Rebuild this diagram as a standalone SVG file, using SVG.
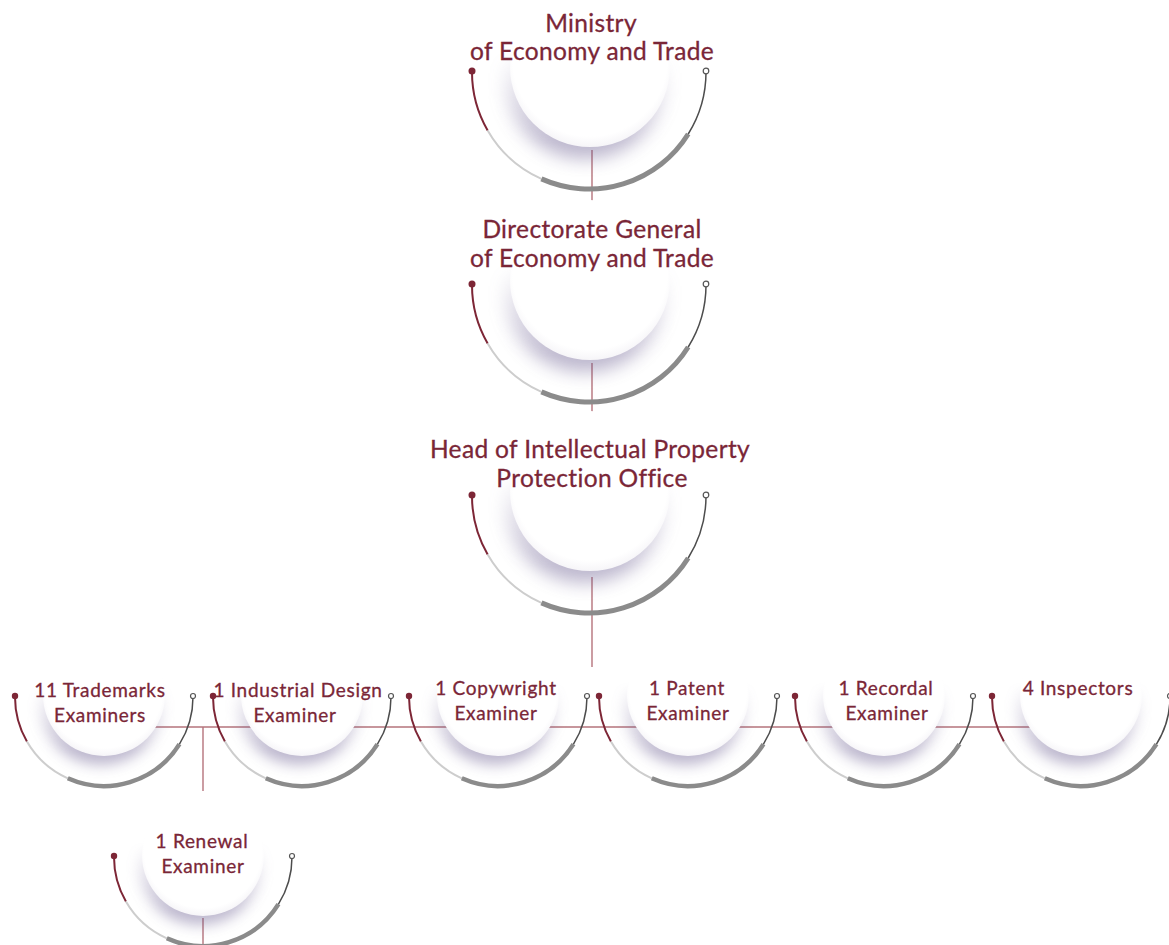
<svg xmlns="http://www.w3.org/2000/svg" width="1169" height="945" viewBox="0 0 1169 945">
<style>
.t{font-family:Lato,"Liberation Sans",sans-serif;fill:#7a2637;stroke:#7a2637;stroke-width:0.3;text-anchor:middle}
.tl{font-size:24.5px;letter-spacing:0.35px}
.ts{font-size:19px;letter-spacing:0.7px}
.conn{stroke:#b5737b;stroke-width:1.4;fill:none}
.red{stroke:#7d2636;stroke-width:2;fill:none}
.lgt{stroke:#cdcdcd;stroke-width:2;fill:none}
.thk{stroke:#8b8b8b;stroke-width:5;fill:none}
.thn{stroke:#4d4d4d;stroke-width:1.5;fill:none}
.dotR{fill:#7d2636}
.dotO{fill:#ffffff;stroke:#555555;stroke-width:1.2}
.sh{fill:#62548a}
</style>
<defs>
<radialGradient id="disc" cx="50%" cy="45%" r="55%">
<stop offset="0" stop-color="#ffffff"/>
<stop offset="0.88" stop-color="#ffffff"/>
<stop offset="1" stop-color="#f6f5f8"/>
</radialGradient>
<linearGradient id="fade" x1="0" y1="0" x2="0" y2="1">
<stop offset="0" stop-color="#fff" stop-opacity="0"/>
<stop offset="0.4" stop-color="#fff" stop-opacity="0"/>
<stop offset="0.72" stop-color="#fff" stop-opacity="1"/>
<stop offset="1" stop-color="#fff" stop-opacity="1"/>
</linearGradient>
<mask id="shMask" maskContentUnits="objectBoundingBox" x="-0.4" y="-0.4" width="1.8" height="1.8">
<rect x="-0.4" y="-0.4" width="1.8" height="1.8" fill="url(#fade)"/>
</mask>
<filter id="blurL" x="-40%" y="-40%" width="180%" height="180%">
<feGaussianBlur stdDeviation="9"/>
</filter>
<filter id="blurS" x="-40%" y="-40%" width="180%" height="180%">
<feGaussianBlur stdDeviation="7"/>
</filter>
<g id="ringL">
<g mask="url(#shMask)"><circle class="sh" cx="-4" cy="7" r="80" opacity="0.42" filter="url(#blurL)"/></g>
<circle cx="1" cy="-5" r="80" fill="url(#disc)"/>
<path class="red" d="M-117 0A117 117 0 0 0 -101.33 58.5"/>
<path class="lgt" d="M-101.33 58.5A117 117 0 0 0 -47.58 106.88"/>
<path class="thk" d="M-47.58 106.88A117 117 0 0 0 99.22 62"/>
<path class="thn" d="M99.22 62A117 117 0 0 0 117 0"/>
<circle class="dotR" cx="-117" cy="-1" r="3.5"/>
<circle class="dotO" cx="117" cy="-1" r="2.8"/>
</g>
<g id="ringS">
<g mask="url(#shMask)"><circle class="sh" cx="-3" cy="7" r="61" opacity="0.42" filter="url(#blurS)"/></g>
<circle cx="0" cy="-2" r="61" fill="url(#disc)"/>
<path class="red" d="M-89 0A89 89 0 0 0 -77.08 44.5"/>
<path class="lgt" d="M-77.08 44.5A89 89 0 0 0 -36.2 81.3"/>
<path class="thk" d="M-36.2 81.3A89 89 0 0 0 75.47 47.16" style="stroke-width:4.5"/>
<path class="thn" d="M75.47 47.16A89 89 0 0 0 89 0"/>
<circle class="dotR" cx="-89" cy="-1" r="3.2"/>
<circle class="dotO" cx="89" cy="-1" r="2.5"/>
</g>
</defs>
<rect width="1169" height="945" fill="#ffffff"/>
<g id="connectors">
<path class="conn" d="M592 150V201"/>
<path class="conn" d="M592 363V412"/>
<path class="conn" d="M592 577V667"/>
<path class="conn" d="M104 727H1081"/>
<path class="conn" d="M203 727V791"/>
<path class="conn" d="M203 918V945"/>
</g>
<g id="node-ministry">
<use href="#ringL" x="589" y="72"/>
<text class="t tl" x="591" y="32">Ministry</text>
<text class="t tl" x="592" y="60">of Economy and Trade</text>
</g>
<g id="node-directorate">
<use href="#ringL" x="589" y="285"/>
<text class="t tl" x="592" y="238">Directorate General</text>
<text class="t tl" x="592" y="267">of Economy and Trade</text>
</g>
<g id="node-head">
<use href="#ringL" x="589" y="496"/>
<text class="t tl" x="590" y="458">Head of Intellectual Property</text>
<text class="t tl" x="592" y="487">Protection Office</text>
</g>
<g id="node-trademarks">
<use href="#ringS" x="104" y="697"/>
<text class="t ts" x="100" y="697">11 Trademarks</text>
<text class="t ts" x="100" y="722">Examiners</text>
</g>
<g id="node-industrial">
<use href="#ringS" x="302" y="697"/>
<text class="t ts" x="298" y="697">1 Industrial Design</text>
<text class="t ts" x="295" y="722">Examiner</text>
</g>
<g id="node-copyright">
<use href="#ringS" x="498" y="697"/>
<text class="t ts" x="496" y="695">1 Copywright</text>
<text class="t ts" x="496" y="720">Examiner</text>
</g>
<g id="node-patent">
<use href="#ringS" x="688" y="697"/>
<text class="t ts" x="687" y="695">1 Patent</text>
<text class="t ts" x="688" y="720">Examiner</text>
</g>
<g id="node-recordal">
<use href="#ringS" x="884" y="697"/>
<text class="t ts" x="886" y="695">1 Recordal</text>
<text class="t ts" x="887" y="720">Examiner</text>
</g>
<g id="node-inspectors">
<use href="#ringS" x="1081" y="697"/>
<text class="t ts" x="1078" y="695">4 Inspectors</text>
</g>
<g id="node-renewal">
<use href="#ringS" x="203" y="857"/>
<text class="t ts" x="202" y="848">1 Renewal</text>
<text class="t ts" x="203" y="873">Examiner</text>
</g>
</svg>
